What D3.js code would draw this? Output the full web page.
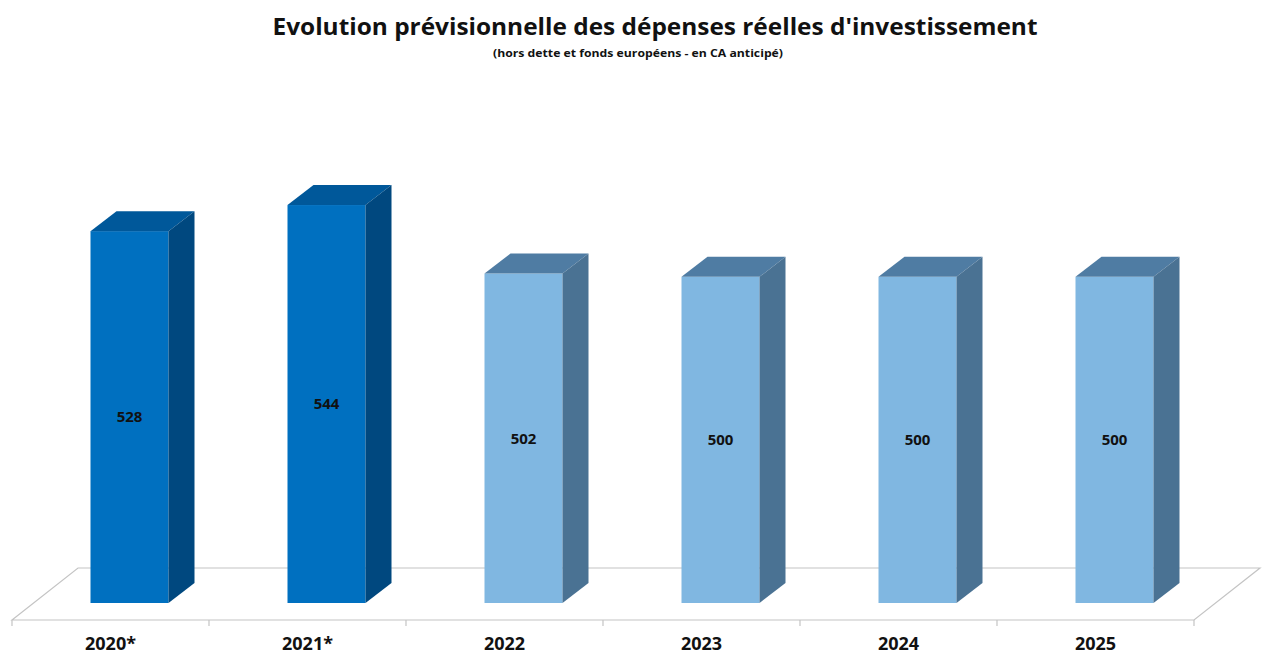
<!DOCTYPE html>
<html>
<head>
<meta charset="utf-8">
<script src="https://cdn.jsdelivr.net/npm/d3@7"></script>
<style>
  body { margin: 0; background: #fff; }
  .js-vis { width: 1263px; height: 657px; }
</style>
</head>
<body>
<div class="js-vis"></div>
<script>
"use strict";

var categories = ["2020*", "2021*", "2022", "2023", "2024", "2025"],
    values = [528, 544, 502, 500, 500, 500],
    realised = [true, true, false, false, false, false];

var titleText = "Evolution prévisionnelle des dépenses réelles d'investissement",
    subtitleText = "(hors dette et fonds européens - en CA anticipé)";

var el = d3.select(".js-vis"),
    width = 1263,
    height = 657;

var svg = el.append("svg").attr("width", width).attr("height", height)
  .style("font-family", "'Open Sans', 'DejaVu Sans', sans-serif");

// floor geometry
var floorY = 620,
    depthX = 66, depthY = 52,
    barDx = 26, barDy = 20,
    barW = 78, barShift = 19, barBase = 603;

var x = d3.scaleBand().domain(categories).range([12, 1194]).padding(0);

var y = d3.scaleLinear().domain([300, 600]).range([barBase, barBase - 300 * 1.631]);

// floor
var floor = svg.append("g").attr("stroke", "#c4c4c4").attr("fill", "none").attr("stroke-width", 1.2);
var x0 = x.range()[0], x1 = x.range()[1];
floor.append("path").attr("d",
  "M" + x0 + "," + floorY + "L" + (x0 + depthX) + "," + (floorY - depthY) +
  "L" + (x1 + depthX) + "," + (floorY - depthY) + "L" + x1 + "," + floorY + "Z");
floor.selectAll(".tick").data(categories.concat([null])).enter().append("line")
  .attr("x1", function (d, i) { return x0 + i * x.bandwidth(); })
  .attr("x2", function (d, i) { return x0 + i * x.bandwidth(); })
  .attr("y1", floorY).attr("y2", floorY + 6);

var colors = {
  dark: { front: "#0070c0", top: "#00589a", side: "#00487f" },
  light: { front: "#80b7e1", top: "#4f7ca3", side: "#4a7293" }
};

var bars = svg.append("g").selectAll("g").data(values).enter().append("g");

function fx(d, i) { return x(categories[i]) + x.bandwidth() / 2 + barShift - barW / 2; }
function pal(i) { return realised[i] ? colors.dark : colors.light; }

bars.append("rect")
  .attr("x", fx)
  .attr("y", function (d) { return y(d); })
  .attr("width", barW)
  .attr("height", function (d) { return barBase - y(d); })
  .attr("fill", function (d, i) { return pal(i).front; });

bars.append("path")
  .attr("d", function (d, i) {
    var l = fx(d, i), t = y(d);
    return "M" + l + "," + t + "L" + (l + barDx) + "," + (t - barDy) +
      "L" + (l + barW + barDx) + "," + (t - barDy) + "L" + (l + barW) + "," + t + "Z";
  })
  .attr("fill", function (d, i) { return pal(i).top; });

bars.append("path")
  .attr("d", function (d, i) {
    var r = fx(d, i) + barW, t = y(d);
    return "M" + r + "," + t + "L" + (r + barDx) + "," + (t - barDy) +
      "L" + (r + barDx) + "," + (barBase - barDy) + "L" + r + "," + barBase + "Z";
  })
  .attr("fill", function (d, i) { return pal(i).side; });

bars.append("text")
  .attr("x", function (d, i) { return fx(d, i) + barW / 2; })
  .attr("y", function (d) { return (y(d) + barBase) / 2; })
  .attr("dy", "0.35em")
  .attr("text-anchor", "middle")
  .attr("font-size", 15)
  .attr("font-weight", "bold")
  .attr("fill", "#111")
  .text(function (d) { return d; });

// category labels
svg.append("g").selectAll("text").data(categories).enter().append("text")
  .attr("x", function (d) { return x(d) + x.bandwidth() / 2; })
  .attr("y", 650)
  .attr("text-anchor", "middle")
  .attr("font-size", 18)
  .attr("font-weight", "bold")
  .attr("fill", "#111")
  .text(function (d) { return d; });

// titles
svg.append("text")
  .attr("x", 655).attr("y", 35)
  .attr("text-anchor", "middle")
  .attr("font-size", 24)
  .attr("font-weight", "bold")
  .attr("fill", "#111")
  .attr("textLength", 765).attr("lengthAdjust", "spacingAndGlyphs")
  .text(titleText);

svg.append("text")
  .attr("x", 638).attr("y", 57)
  .attr("text-anchor", "middle")
  .attr("font-size", 11)
  .attr("font-weight", "bold")
  .attr("fill", "#111")
  .attr("textLength", 290).attr("lengthAdjust", "spacingAndGlyphs")
  .text(subtitleText);
</script>
</body>
</html>
